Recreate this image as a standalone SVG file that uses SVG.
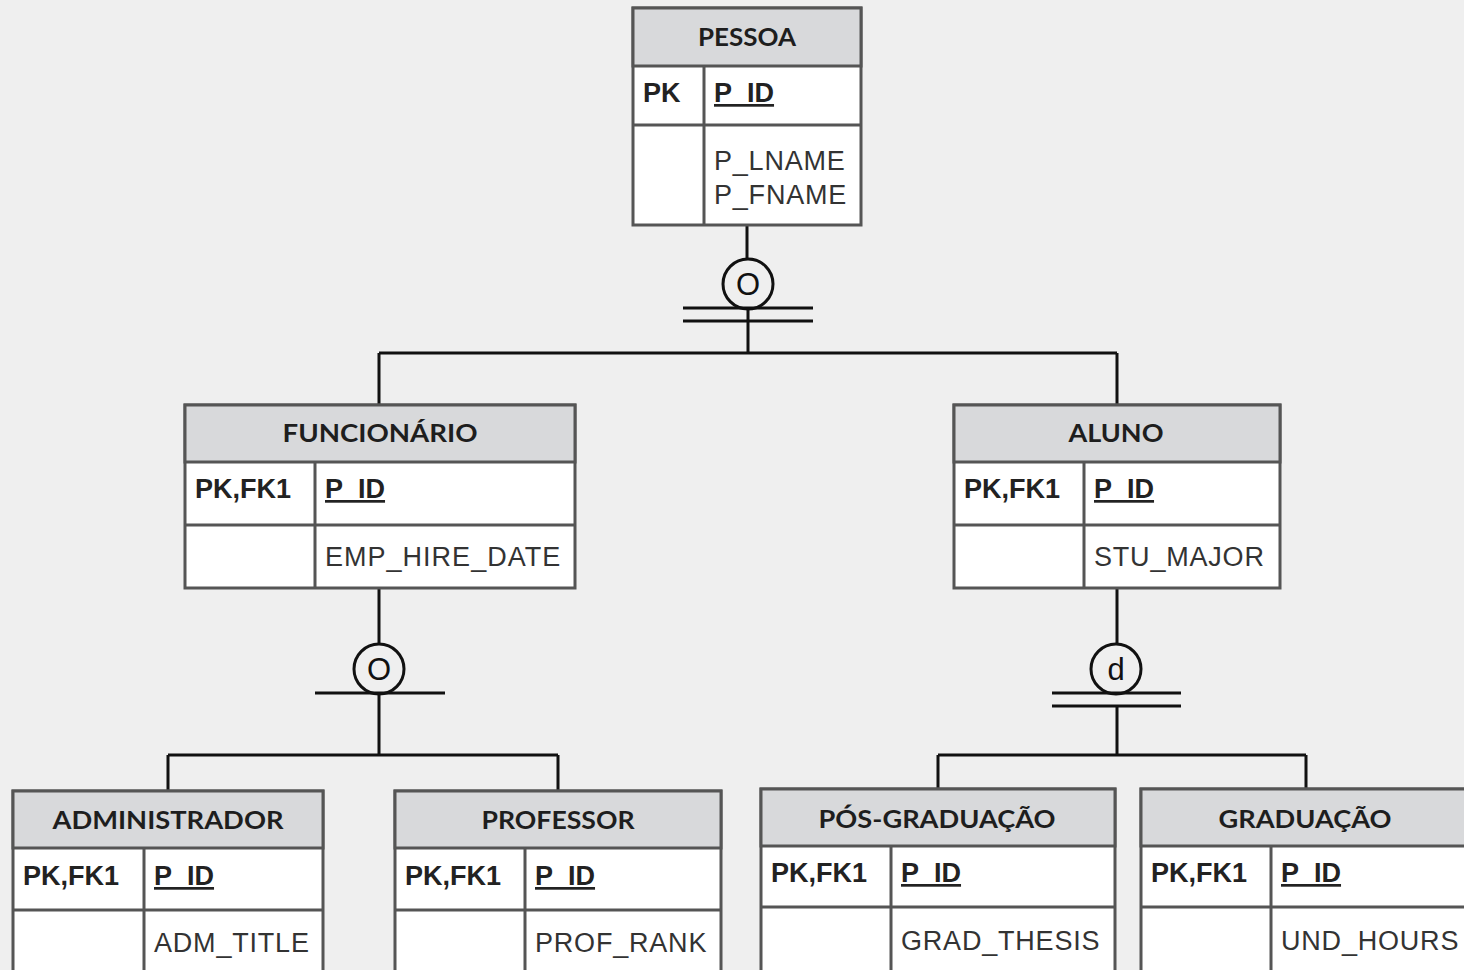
<svg xmlns="http://www.w3.org/2000/svg" width="1464" height="970" viewBox="0 0 1464 970">
  <style>
    .bg { fill: #efefef; }
    .box { fill: #ffffff; stroke: #555555; stroke-width: 3; }
    .head { fill: #d8d9db; stroke: #555555; stroke-width: 3; }
    .sep { stroke: #555555; stroke-width: 3; fill: none; }
    .title { font-family: Lato, "Liberation Sans", sans-serif; font-weight: 700; font-size: 25px; fill: #1e1e1e; text-anchor: middle; }
    .key { font-family: "Liberation Sans", Arial, sans-serif; font-weight: 700; font-size: 27px; fill: #222222; }
    .pid { font-family: "Liberation Sans", Arial, sans-serif; font-weight: 700; font-size: 27px; fill: #222222; text-decoration: underline; }
    .attr { font-family: "Liberation Sans", Arial, sans-serif; font-size: 27px; letter-spacing: 0.8px; fill: #333333; }
    .wire { stroke: #111111; stroke-width: 3; fill: none; }
    .sym { stroke: #111111; stroke-width: 3; fill: #efefef; }
    .symtxt { font-family: "Liberation Sans", Arial, sans-serif; font-size: 31px; fill: #111111; text-anchor: middle; }
  </style>
  <rect class="bg" x="0" y="0" width="1464" height="970"/>

  <!-- connectors and subtype symbols -->
  <g id="connectors">
    <!-- PESSOA overlapping subtypes -->
    <path class="wire" d="M747 225 V258"/>
    <circle class="sym" cx="748" cy="284" r="25"/>
    <text class="symtxt" x="748" y="295">O</text>
    <path class="wire" d="M683 308 H813 M683 321 H813 M748 308 V353 M379 353 H1117 M379 353 V405 M1117 353 V405"/>

    <!-- FUNCIONÁRIO overlapping subtypes -->
    <path class="wire" d="M379 588 V644"/>
    <circle class="sym" cx="379" cy="669" r="25"/>
    <text class="symtxt" x="379" y="680">O</text>
    <path class="wire" d="M315 693 H445 M379 693 V755 M168 755 H558 M168 755 V791 M558 755 V791"/>

    <!-- ALUNO disjoint subtypes -->
    <path class="wire" d="M1117 588 V644"/>
    <circle class="sym" cx="1116" cy="669" r="25"/>
    <text class="symtxt" x="1116" y="680">d</text>
    <path class="wire" d="M1052 693 H1181 M1052 706 H1181 M1117 706 V755 M938 755 H1306 M938 755 V789 M1306 755 V789"/>
  </g>

  <g id="pessoa">
    <rect class="box" x="633" y="8" width="228" height="217"/>
    <rect class="head" x="633" y="8" width="228" height="58"/>
    <path class="sep" d="M633 125 H861 M704 66 V225"/>
    <text class="title" x="747" y="46" textLength="98" lengthAdjust="spacingAndGlyphs">PESSOA</text>
    <text class="key" x="643" y="102">PK</text>
    <text class="pid" x="714" y="102">P_ID</text>
    <text class="attr" x="714" y="170">P_LNAME</text>
    <text class="attr" x="714" y="204">P_FNAME</text>
  </g>

  <g id="funcionario">
    <rect class="box" x="185" y="405" width="390" height="183"/>
    <rect class="head" x="185" y="405" width="390" height="57"/>
    <path class="sep" d="M185 525 H575 M315 462 V588"/>
    <text class="title" x="380" y="442" textLength="195" lengthAdjust="spacingAndGlyphs">FUNCIONÁRIO</text>
    <text class="key" x="195" y="498">PK,FK1</text>
    <text class="pid" x="325" y="498">P_ID</text>
    <text class="attr" x="325" y="566" textLength="236">EMP_HIRE_DATE</text>
  </g>

  <g id="aluno">
    <rect class="box" x="954" y="405" width="326" height="183"/>
    <rect class="head" x="954" y="405" width="326" height="57"/>
    <path class="sep" d="M954 525 H1280 M1084 462 V588"/>
    <text class="title" x="1116" y="442" textLength="95" lengthAdjust="spacingAndGlyphs">ALUNO</text>
    <text class="key" x="964" y="498">PK,FK1</text>
    <text class="pid" x="1094" y="498">P_ID</text>
    <text class="attr" x="1094" y="566">STU_MAJOR</text>
  </g>

  <g id="administrador">
    <rect class="box" x="13" y="791" width="310" height="190"/>
    <rect class="head" x="13" y="791" width="310" height="57"/>
    <path class="sep" d="M13 910 H323 M144 848 V981"/>
    <text class="title" x="168" y="829" textLength="231" lengthAdjust="spacingAndGlyphs">ADMINISTRADOR</text>
    <text class="key" x="23" y="885">PK,FK1</text>
    <text class="pid" x="154" y="885">P_ID</text>
    <text class="attr" x="154" y="952">ADM_TITLE</text>
  </g>

  <g id="professor">
    <rect class="box" x="395" y="791" width="326" height="190"/>
    <rect class="head" x="395" y="791" width="326" height="57"/>
    <path class="sep" d="M395 910 H721 M525 848 V981"/>
    <text class="title" x="558" y="829" textLength="153" lengthAdjust="spacingAndGlyphs">PROFESSOR</text>
    <text class="key" x="405" y="885">PK,FK1</text>
    <text class="pid" x="535" y="885">P_ID</text>
    <text class="attr" x="535" y="952">PROF_RANK</text>
  </g>

  <g id="pos-graduacao">
    <rect class="box" x="761" y="789" width="354" height="192"/>
    <rect class="head" x="761" y="789" width="354" height="57"/>
    <path class="sep" d="M761 907 H1115 M891 846 V981"/>
    <text class="title" x="937" y="828" textLength="237" lengthAdjust="spacingAndGlyphs">PÓS-GRADUAÇÃO</text>
    <text class="key" x="771" y="882">PK,FK1</text>
    <text class="pid" x="901" y="882">P_ID</text>
    <text class="attr" x="901" y="950">GRAD_THESIS</text>
  </g>

  <g id="graduacao">
    <rect class="box" x="1141" y="789" width="340" height="192"/>
    <rect class="head" x="1141" y="789" width="340" height="57"/>
    <path class="sep" d="M1141 907 H1481 M1271 846 V981"/>
    <text class="title" x="1305" y="828" textLength="173" lengthAdjust="spacingAndGlyphs">GRADUAÇÃO</text>
    <text class="key" x="1151" y="882">PK,FK1</text>
    <text class="pid" x="1281" y="882">P_ID</text>
    <text class="attr" x="1281" y="950">UND_HOURS</text>
  </g>
</svg>
